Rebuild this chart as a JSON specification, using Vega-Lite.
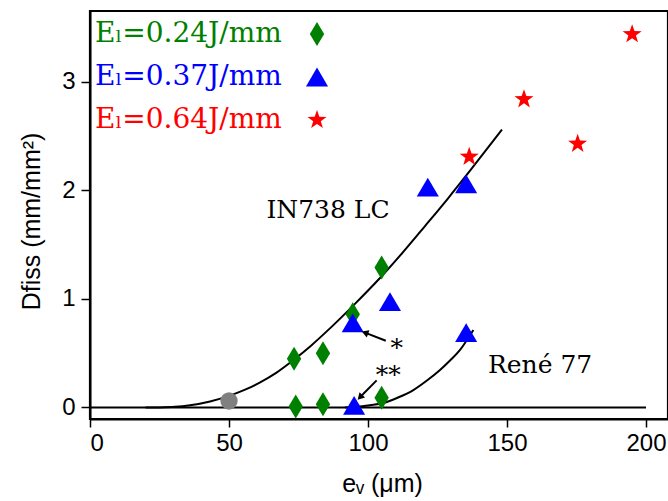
{
  "$schema": "https://vega.github.io/schema/vega-lite/v6.json",
  "autosize": {"type": "none"},
  "padding": {"left": 90, "top": 11, "right": 0, "bottom": 82},
  "width": 578,
  "height": 408,
  "background": "white",
  "config": {
    "view": {"stroke": "black", "strokeWidth": 2.2},
    "axis": {
      "labelFont": "Liberation Sans",
      "titleFont": "Liberation Sans",
      "labelColor": "black",
      "titleColor": "black",
      "titleFontWeight": "normal",
      "domainColor": "black",
      "tickColor": "black",
      "grid": false
    },
    "legend": {
      "title": null,
      "orient": "none",
      "legendX": 7,
      "legendY": 9,
      "padding": 0,
      "rowPadding": 15,
      "labelFont": "DejaVu Serif",
      "labelFontSize": 28,
      "labelLimit": 400,
      "symbolOffset": 206,
      "labelOffset": -236,
      "labelColor": {"expr": "scale('color', datum.value)"}
    }
  },
  "datasets": {
    "points": [
      {"x": 73.4, "y": 0.45, "series": "Eₗ=0.24J/mm"},
      {"x": 83.8, "y": 0.50, "series": "Eₗ=0.24J/mm"},
      {"x": 94.5, "y": 0.86, "series": "Eₗ=0.24J/mm"},
      {"x": 104.9, "y": 1.29, "series": "Eₗ=0.24J/mm"},
      {"x": 74.0, "y": 0.01, "series": "Eₗ=0.24J/mm"},
      {"x": 83.8, "y": 0.03, "series": "Eₗ=0.24J/mm"},
      {"x": 104.9, "y": 0.09, "series": "Eₗ=0.24J/mm"},
      {"x": 94.5, "y": 0.78, "series": "Eₗ=0.37J/mm"},
      {"x": 107.9, "y": 0.975, "series": "Eₗ=0.37J/mm"},
      {"x": 95.0, "y": 0.02, "series": "Eₗ=0.37J/mm"},
      {"x": 135.3, "y": 0.69, "series": "Eₗ=0.37J/mm"},
      {"x": 121.5, "y": 2.03, "series": "Eₗ=0.37J/mm"},
      {"x": 135.3, "y": 2.06, "series": "Eₗ=0.37J/mm"},
      {"x": 136.4, "y": 2.31, "series": "Eₗ=0.64J/mm"},
      {"x": 156.1, "y": 2.84, "series": "Eₗ=0.64J/mm"},
      {"x": 175.4, "y": 2.43, "series": "Eₗ=0.64J/mm"},
      {"x": 195.0, "y": 3.44, "series": "Eₗ=0.64J/mm"}
    ],
    "ref": [{"x": 50, "y": 0.06}],
    "curves": [
      {"x": 20, "y": 0, "alloy": "IN738 LC"},
      {"x": 25.2, "y": 0.001, "alloy": "IN738 LC"},
      {"x": 30.6, "y": 0.006, "alloy": "IN738 LC"},
      {"x": 36.0, "y": 0.021, "alloy": "IN738 LC"},
      {"x": 43.2, "y": 0.056, "alloy": "IN738 LC"},
      {"x": 50.0, "y": 0.107, "alloy": "IN738 LC"},
      {"x": 55.8, "y": 0.164, "alloy": "IN738 LC"},
      {"x": 61.2, "y": 0.232, "alloy": "IN738 LC"},
      {"x": 67.1, "y": 0.322, "alloy": "IN738 LC"},
      {"x": 73.0, "y": 0.434, "alloy": "IN738 LC"},
      {"x": 79.5, "y": 0.570, "alloy": "IN738 LC"},
      {"x": 86.3, "y": 0.729, "alloy": "IN738 LC"},
      {"x": 95.3, "y": 0.955, "alloy": "IN738 LC"},
      {"x": 104.3, "y": 1.193, "alloy": "IN738 LC"},
      {"x": 112.6, "y": 1.432, "alloy": "IN738 LC"},
      {"x": 120.5, "y": 1.672, "alloy": "IN738 LC"},
      {"x": 128.8, "y": 1.928, "alloy": "IN738 LC"},
      {"x": 136.7, "y": 2.182, "alloy": "IN738 LC"},
      {"x": 148.2, "y": 2.561, "alloy": "IN738 LC"},
      {"x": 91.7, "y": 0, "alloy": "René 77"},
      {"x": 96.0, "y": 0.006, "alloy": "René 77"},
      {"x": 100.7, "y": 0.021, "alloy": "René 77"},
      {"x": 105.5, "y": 0.041, "alloy": "René 77"},
      {"x": 110.8, "y": 0.092, "alloy": "René 77"},
      {"x": 116.3, "y": 0.161, "alloy": "René 77"},
      {"x": 121.2, "y": 0.249, "alloy": "René 77"},
      {"x": 125.9, "y": 0.346, "alloy": "René 77"},
      {"x": 129.5, "y": 0.433, "alloy": "René 77"},
      {"x": 133.1, "y": 0.530, "alloy": "René 77"},
      {"x": 135.6, "y": 0.622, "alloy": "René 77"},
      {"x": 137.9, "y": 0.714, "alloy": "René 77"}
    ],
    "hlines": [
      {"x": 0, "x2": 200, "y": 0}
    ],
    "labels": [
      {"x": 85.6, "y": 1.82, "text": "IN738 LC"},
      {"x": 161.9, "y": 0.39, "text": "René 77"},
      {"x": 110.3, "y": 0.55, "text": "*"},
      {"x": 107.3, "y": 0.30, "text": "**"}
    ],
    "arrows": [
      {"id": "a1", "x": 106.4, "y": 0.615, "x2": 98.9, "y2": 0.69},
      {"id": "a2", "x": 103.1, "y": 0.25, "x2": 97.1, "y2": 0.094}
    ]
  },
  "layer": [
    {
      "data": {"name": "hlines"},
      "mark": {"type": "rule", "color": "black", "strokeWidth": 2.2},
      "encoding": {
        "x": {"field": "x", "type": "quantitative", "scale": {"domain": [0, 207.9], "nice": false, "zero": false},
              "axis": {"values": [0, 50, 100, 150, 200], "tickSize": 8, "tickWidth": 1.5, "domainWidth": 2, "labelFontSize": 24, "labelPadding": 4,
                       "title": "eᵥ (μm)", "titleFontSize": 25, "titlePadding": 16, "titleX": 292}},
        "x2": {"field": "x2"},
        "y": {"field": "y", "type": "quantitative", "scale": {"domain": [-0.106, 3.654], "nice": false, "zero": false},
              "axis": {"values": [0, 1, 2, 3], "format": "d", "tickSize": 9, "tickWidth": 1.5, "domainWidth": 2, "labelFontSize": 24, "labelPadding": 6,
                       "title": "Dfiss (mm/mm²)", "titleFontSize": 25, "titlePadding": 17, "titleY": 210}}
      }
    },
    {
      "data": {"name": "curves"},
      "mark": {"type": "line", "color": "black", "strokeWidth": 2, "interpolate": "monotone"},
      "encoding": {
        "x": {"field": "x", "type": "quantitative"},
        "y": {"field": "y", "type": "quantitative"},
        "detail": {"field": "alloy"}
      }
    },
    {
      "data": {"name": "ref"},
      "mark": {"type": "point", "filled": true, "shape": "circle", "size": 300, "color": "gray", "opacity": 1},
      "encoding": {
        "x": {"field": "x", "type": "quantitative"},
        "y": {"field": "y", "type": "quantitative"}
      }
    },
    {
      "data": {"name": "points"},
      "mark": {"type": "point", "filled": true, "opacity": 1},
      "encoding": {
        "x": {"field": "x", "type": "quantitative"},
        "y": {"field": "y", "type": "quantitative"},
        "color": {"field": "series", "type": "nominal",
          "scale": {"domain": ["Eₗ=0.24J/mm", "Eₗ=0.37J/mm", "Eₗ=0.64J/mm"], "range": ["green", "blue", "red"]}},
        "shape": {"field": "series", "type": "nominal",
          "scale": {"domain": ["Eₗ=0.24J/mm", "Eₗ=0.37J/mm", "Eₗ=0.64J/mm"],
                    "range": ["M0,-1L0.6,0L0,1L-0.6,0Z", "M0,-0.85L1,0.85L-1,0.85Z", "M0,-1L0.235,-0.324L0.951,-0.309L0.38,0.124L0.588,0.809L0,0.4L-0.588,0.809L-0.38,0.124L-0.951,-0.309L-0.235,-0.324Z"]}},
        "size": {"field": "series", "type": "nominal",
          "scale": {"domain": ["Eₗ=0.24J/mm", "Eₗ=0.37J/mm", "Eₗ=0.64J/mm"], "range": [576, 400, 340]}}
      }
    },
    {
      "data": {"name": "arrows"},
      "mark": {"type": "rule", "color": "black", "strokeWidth": 2},
      "encoding": {
        "x": {"field": "x", "type": "quantitative"},
        "y": {"field": "y", "type": "quantitative"},
        "x2": {"field": "x2"},
        "y2": {"field": "y2"}
      }
    },
    {
      "data": {"name": "arrows"},
      "transform": [{"filter": "datum.id === 'a1'"}],
      "mark": {"type": "point", "shape": "triangle-right", "filled": true, "color": "black", "opacity": 1, "size": 60, "angle": 200},
      "encoding": {
        "x": {"field": "x2", "type": "quantitative"},
        "y": {"field": "y2", "type": "quantitative"}
      }
    },
    {
      "data": {"name": "arrows"},
      "transform": [{"filter": "datum.id === 'a2'"}],
      "mark": {"type": "point", "shape": "triangle-right", "filled": true, "color": "black", "opacity": 1, "size": 60, "angle": 134},
      "encoding": {
        "x": {"field": "x2", "type": "quantitative"},
        "y": {"field": "y2", "type": "quantitative"}
      }
    },
    {
      "data": {"name": "labels"},
      "mark": {"type": "text", "font": "DejaVu Serif", "fontSize": 25, "color": "black", "align": "center", "baseline": "middle"},
      "encoding": {
        "x": {"field": "x", "type": "quantitative"},
        "y": {"field": "y", "type": "quantitative"},
        "text": {"field": "text"}
      }
    }
  ]
}
